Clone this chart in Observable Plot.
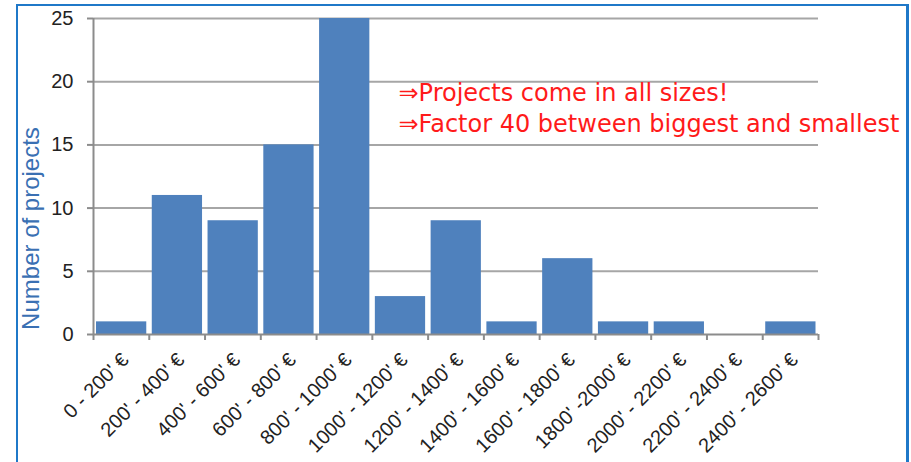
<!DOCTYPE html>
<html>
<head>
<meta charset="utf-8">
<script src="https://cdn.jsdelivr.net/npm/d3@7"></script>
<script src="https://cdn.jsdelivr.net/npm/@observablehq/plot@0.6"></script>
<style>
  html, body { margin: 0; padding: 0; background: #fff; }
  #wrap { position: relative; width: 911px; height: 462px; overflow: hidden; }
  #frame { position: absolute; left: 16px; top: 4px; width: 888px; height: 470px;
           border-left: 2px solid #1f78c8; border-top: 2px solid #1f78c8; border-right: 3px solid #1f78c8; }
  #chart { position: absolute; left: 0; top: 0; }
</style>
</head>
<body>
<div id="wrap"><div id="frame"></div><div id="chart"></div></div>
<script>
const categories = ["0 - 200' €", "200' - 400' €", "400' - 600' €", "600' - 800' €", "800' - 1000' €",
  "1000' - 1200' €", "1200' - 1400' €", "1400' - 1600' €", "1600' - 1800' €", "1800' -2000' €",
  "2000' - 2200' €", "2200' - 2400' €", "2400' - 2600' €"];
const binStart = [0, 200, 400, 600, 800, 1000, 1200, 1400, 1600, 1800, 2000, 2200, 2400];
const binEnd = [200, 400, 600, 800, 1000, 1200, 1400, 1600, 1800, 2000, 2200, 2400, 2600];
const projects = [1, 11, 9, 15, 25, 3, 9, 1, 6, 1, 1, 0, 1];
const yTicks = [0, 5, 10, 15, 20, 25];
const gridTicks = [5, 10, 15, 20, 25];
const edges = [0, 200, 400, 600, 800, 1000, 1200, 1400, 1600, 1800, 2000, 2200, 2400, 2600];
const yLabel = "Number of projects";
const notes = ["⇒Projects come in all sizes!", "⇒Factor 40 between biggest and smallest"];

const data = categories.map((c, i) => ({cat: c, lo: binStart[i], hi: binEnd[i], mid: (binStart[i] + binEnd[i]) / 2, n: projects[i]}));

const chart = Plot.plot({
  width: 911,
  height: 462,
  marginLeft: 93,
  marginRight: 93,
  marginTop: 18,
  marginBottom: 128,
  style: {fontFamily: "'Liberation Sans', Arial, sans-serif", background: "transparent", overflow: "visible"},
  x: {domain: [0, 2600], axis: null},
  y: {domain: [0, 25], axis: null},
  marks: [
    Plot.gridY(gridTicks, {stroke: "#a6a6a6", strokeOpacity: 1, strokeWidth: 2}),
    Plot.rectY(data, {x1: "lo", x2: "hi", y: "n", fill: "#4f81bd", insetLeft: 3, insetRight: 2.5}),
    Plot.axisY(yTicks, {tickSize: 6, tickPadding: 14, fontSize: 20, stroke: "#8c8c8c", strokeWidth: 2, fill: "#222", label: null}),
    Plot.axisX(edges, {tickSize: 6, tickFormat: () => "", stroke: "#8c8c8c", strokeWidth: 2, label: null}),
    Plot.ruleY([0], {stroke: "#8c8c8c", strokeWidth: 2}),
    Plot.ruleX([0], {stroke: "#8c8c8c", strokeWidth: 2}),
    Plot.text(data, {x: "mid", y: 0, text: "cat", rotate: -45, textAnchor: "end", dx: 4, dy: 22, fontSize: 20, fill: "#222"}),
    Plot.text([yLabel], {frameAnchor: "left", textAnchor: "middle", rotate: -90, dx: -62, dy: 52, fontSize: 24, fill: "#3a70b3"}),
    Plot.text([notes[0]], {frameAnchor: "top-left", dx: 305, dy: 65, textAnchor: "start", fontSize: 24, fill: "#ff1a1a", fontFamily: "DejaVu Sans"}),
    Plot.text([notes[1]], {frameAnchor: "top-left", dx: 305, dy: 96, textAnchor: "start", fontSize: 24, fill: "#ff1a1a", fontFamily: "DejaVu Sans"})
  ]
});
document.getElementById("chart").appendChild(chart);
</script>
</body>
</html>
